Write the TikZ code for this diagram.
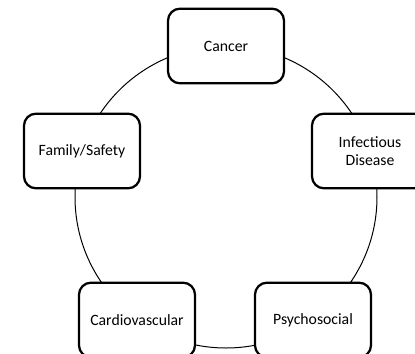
\documentclass[tikz,border=0pt]{standalone}
\usepackage{fontspec}
\setmainfont{Carlito}
\begin{document}
\begin{tikzpicture}[x=0.75pt, y=-0.75pt,
    area/.style={draw, line width=1.7pt, rounded corners=9pt, fill=white,
        minimum width=87pt, minimum height=56pt, align=center,
        font=\fontsize{11.8}{13.5}\selectfont}]
    \useasboundingbox (0,0) rectangle (415,354);
    \clip (0,0) rectangle (415,354);

    % Ciclo
    \coordinate (centro) at (226,197);
    \draw[line width=0.75pt] (centro) circle (113.25pt);

    % Aree
    \node[area] (cancer) at (226,46) {Cancer};
    \node[area] (infect) at (370,151) {Infectious\\Disease};
    \node[area] (psycho) at (313,320) {Psychosocial};
    \node[area] (cardio) at (137,320) {Cardiovascular};
    \node[area] (family) at (82,151) {Family/Safety};
\end{tikzpicture}
\end{document}
